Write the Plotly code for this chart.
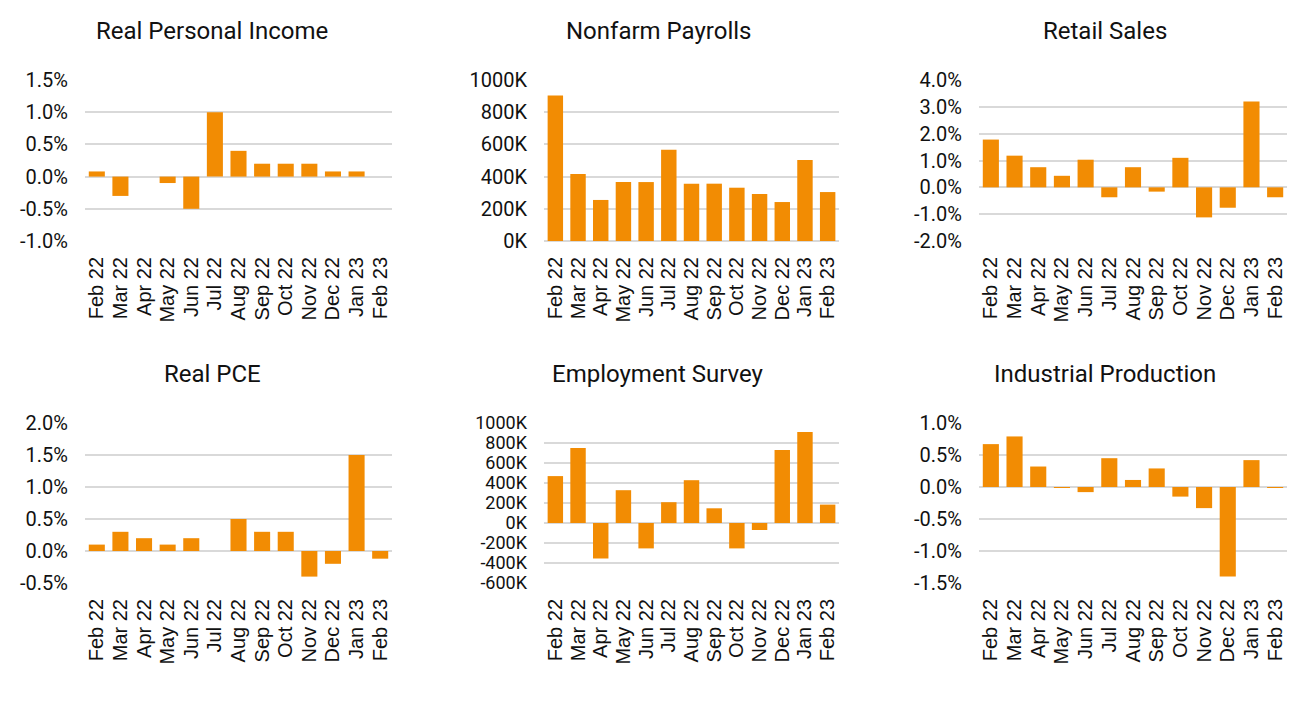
import plotly.graph_objects as go

months = ["Feb 22", "Mar 22", "Apr 22", "May 22", "Jun 22", "Jul 22", "Aug 22",
          "Sep 22", "Oct 22", "Nov 22", "Dec 22", "Jan 23", "Feb 23"]

real_personal_income = [0.08, -0.3, 0.0, -0.1, -0.5, 1.0, 0.4, 0.2, 0.2, 0.2, 0.08, 0.08, 0.0]
nonfarm_payrolls = [904, 416, 255, 366, 366, 567, 356, 356, 331, 292, 242, 503, 304]
retail_sales = [1.78, 1.18, 0.75, 0.43, 1.03, -0.37, 0.75, -0.16, 1.1, -1.12, -0.76, 3.2, -0.37]
real_pce = [0.1, 0.3, 0.2, 0.1, 0.2, 0.0, 0.5, 0.3, 0.3, -0.4, -0.2, 1.5, -0.12]
employment_survey = [469, 750, -355, 328, -254, 208, 428, 147, -254, -70, 730, 910, 184]
industrial_production = [0.67, 0.79, 0.32, -0.01, -0.08, 0.45, 0.11, 0.29, -0.15, -0.33, -1.4, 0.42, -0.01]

rpi_ticks = [-1.0, -0.5, 0.0, 0.5, 1.0, 1.5]
rpi_labels = ["-1.0%", "-0.5%", "0.0%", "0.5%", "1.0%", "1.5%"]
nfp_ticks = [0, 200, 400, 600, 800, 1000]
nfp_labels = ["0K", "200K", "400K", "600K", "800K", "1000K"]
rs_ticks = [-2.0, -1.0, 0.0, 1.0, 2.0, 3.0, 4.0]
rs_labels = ["-2.0%", "-1.0%", "0.0%", "1.0%", "2.0%", "3.0%", "4.0%"]
pce_ticks = [-0.5, 0.0, 0.5, 1.0, 1.5, 2.0]
pce_labels = ["-0.5%", "0.0%", "0.5%", "1.0%", "1.5%", "2.0%"]
emp_ticks = [-600, -400, -200, 0, 200, 400, 600, 800, 1000]
emp_labels = ["-600K", "-400K", "-200K", "0K", "200K", "400K", "600K", "800K", "1000K"]
ip_ticks = [-1.5, -1.0, -0.5, 0.0, 0.5, 1.0]
ip_labels = ["-1.5%", "-1.0%", "-0.5%", "0.0%", "0.5%", "1.0%"]

panels = [
    ("Real Personal Income", real_personal_income, rpi_ticks, rpi_labels, 20),
    ("Nonfarm Payrolls", nonfarm_payrolls, nfp_ticks, nfp_labels, 20),
    ("Retail Sales", retail_sales, rs_ticks, rs_labels, 20),
    ("Real PCE", real_pce, pce_ticks, pce_labels, 20),
    ("Employment Survey", employment_survey, emp_ticks, emp_labels, 18),
    ("Industrial Production", industrial_production, ip_ticks, ip_labels, 20),
]

# page body adds an 8px margin: figure is drawn 8px in from the window edge
OFF = 8
W, H = 1314 - 2 * OFF, 718 - 2 * OFF
xdoms = [(85, 392), (544, 839), (979, 1287)]
ydoms = [(80, 241), (423, 583)]
title_x = [212, 658, 1105]
title_y = [31, 374]


def px(x):
    return (x - OFF) / W


def py(y):
    return 1 - (y - OFF) / H


BAR = "#F28C03"
GRID = "#D9D9D9"

fig = go.Figure()
layout = dict(width=W, height=H, margin=dict(l=0, r=0, t=0, b=0, autoexpand=False),
              template="none",
              paper_bgcolor="white", plot_bgcolor="white", showlegend=False,
              bargap=0.32, annotations=[])

for i, (title, vals, tv, tt, fs) in enumerate(panels):
    r, c = divmod(i, 3)
    n = i + 1
    xa = "x" if n == 1 else f"x{n}"
    ya = "y" if n == 1 else f"y{n}"
    fig.add_trace(go.Bar(x=months, y=vals, xaxis=xa, yaxis=ya,
                         marker=dict(color=BAR, line=dict(width=0)),
                         hoverinfo="x+y"))
    x0, x1 = xdoms[c]
    y0, y1 = ydoms[r]
    layout[f"xaxis{'' if n == 1 else n}"] = dict(
        domain=[px(x0), px(x1)], anchor=ya, tickangle=-90, automargin=False,
        type="category", tickmode="array", tickvals=months, ticktext=months,
        tickfont=dict(family="Liberation Sans", size=20, color="#111"),
        showgrid=False, showline=False, zeroline=False, ticks="", ticklen=0,
        ticklabelstandoff=11, fixedrange=True)
    layout[f"yaxis{'' if n == 1 else n}"] = dict(
        domain=[py(y1), py(y0)], anchor=xa, range=[tv[0], tv[-1]],
        tickmode="array", tickvals=tv, ticktext=tt, automargin=False,
        showgrid=True, gridcolor=GRID, gridwidth=1.6, zeroline=True,
        zerolinecolor=GRID, zerolinewidth=1.6, showline=False, ticks="",
        ticklabelstandoff=16,
        tickfont=dict(family="Roboto", size=fs, color="#111"), fixedrange=True)
    layout["annotations"].append(dict(
        text=title, x=px(title_x[c]), y=py(title_y[r]), xref="paper", yref="paper",
        xanchor="center", yanchor="middle", showarrow=False,
        font=dict(family="Roboto", size=24, color="#111")))

fig.update_layout(**layout)
fig.write_html("out.html")
